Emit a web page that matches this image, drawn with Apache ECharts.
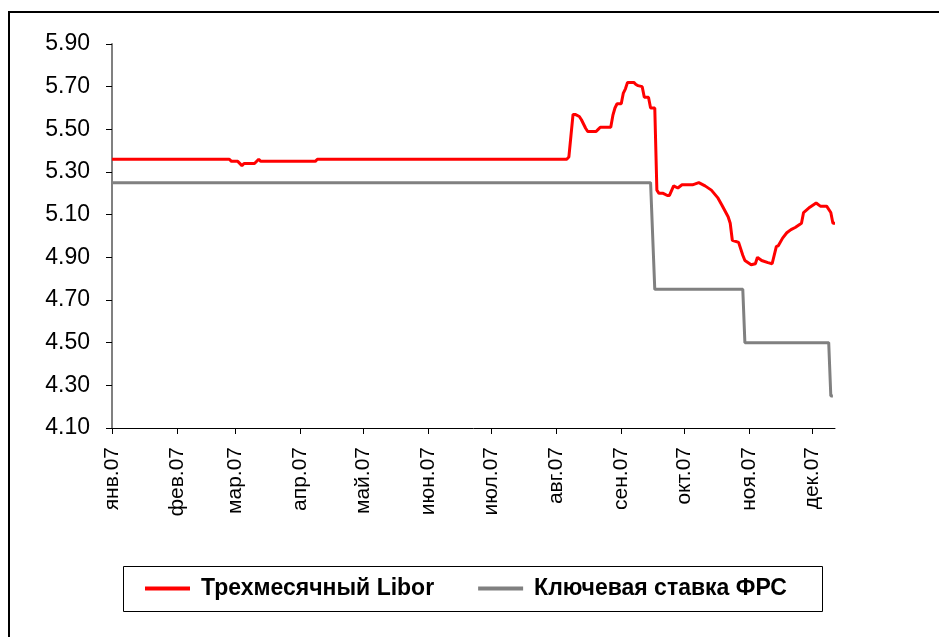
<!DOCTYPE html>
<html><head><meta charset="utf-8">
<script src="https://cdn.jsdelivr.net/npm/echarts@6/dist/echarts.min.js"></script>
<style>html,body{margin:0;padding:0;background:#fff}#c{width:939px;height:637px}</style>
</head><body><div id="c"></div>
<script>
// ---- data ----
const monthLabels = ['янв.07','фев.07','мар.07','апр.07','май.07','июн.07','июл.07','авг.07','сен.07','окт.07','ноя.07','дек.07'];
const firstDay = '2007-01-01';
const lastDay = '2007-12-12';
const yMin = 4.10, yMax = 5.90, yStep = 0.20;

const liborDates = ['2007-01-01','2007-02-26','2007-02-27','2007-03-02','2007-03-04','2007-03-05','2007-03-10','2007-03-12','2007-03-13','2007-04-08','2007-04-09',
 '2007-08-06','2007-08-07','2007-08-08','2007-08-09','2007-08-10','2007-08-12','2007-08-13','2007-08-14','2007-08-15','2007-08-16','2007-08-20','2007-08-21','2007-08-22','2007-08-27','2007-08-28','2007-08-29','2007-08-30',
 '2007-09-01','2007-09-02','2007-09-03','2007-09-04','2007-09-07','2007-09-08','2007-09-09','2007-09-11','2007-09-12','2007-09-14','2007-09-15','2007-09-17','2007-09-18',
 '2007-09-19','2007-09-21','2007-09-23','2007-09-24','2007-09-26','2007-09-28','2007-09-30','2007-10-05','2007-10-08','2007-10-11','2007-10-14','2007-10-17','2007-10-19','2007-10-22','2007-10-23','2007-10-24','2007-10-27','2007-10-29','2007-10-30',
 '2007-11-02','2007-11-04','2007-11-05','2007-11-07','2007-11-10','2007-11-12','2007-11-14','2007-11-15','2007-11-17','2007-11-19','2007-11-21','2007-11-23','2007-11-26','2007-11-27','2007-11-30',
 '2007-12-03','2007-12-05','2007-12-08','2007-12-10','2007-12-11','2007-12-12'];
const liborValues = [5.36,5.36,5.35,5.35,5.33,5.34,5.34,5.36,5.35,5.35,5.36,
 5.36,5.37,5.47,5.57,5.57,5.56,5.545,5.525,5.505,5.49,5.49,5.50,5.51,5.51,5.565,5.60,5.62,
 5.62,5.67,5.69,5.72,5.72,5.71,5.705,5.70,5.65,5.65,5.60,5.60,5.215,
 5.20,5.20,5.19,5.19,5.235,5.225,5.24,5.24,5.25,5.235,5.215,5.18,5.145,5.09,5.06,4.98,4.97,4.91,4.885,
 4.865,4.87,4.90,4.885,4.875,4.87,4.95,4.955,4.99,5.015,5.03,5.04,5.06,5.11,5.135,
 5.155,5.14,5.14,5.11,5.06,5.06];

const fedDates = ['2007-01-01','2007-09-15','2007-09-17','2007-10-29','2007-10-30','2007-12-09','2007-12-10','2007-12-11'];
const fedValues = [5.25,5.25,4.75,4.75,4.50,4.50,4.25,4.25];

const seriesNames = ['Трехмесячный Libor','Ключевая ставка ФРС'];

// ---- build ----
function iso(d){return d.toISOString().slice(0,10);}
const categories = [];
for (let d = new Date(firstDay+'T00:00:00Z'); iso(d) <= lastDay; d.setUTCDate(d.getUTCDate()+1)) categories.push(iso(d));
const isMonthStart = (idx, val) => String(val).slice(8,10) === '01';
const FONT = '"Liberation Sans", Arial, sans-serif';

const chart = echarts.init(document.getElementById('c'), null, {renderer:'canvas'});
chart.setOption({
  animation: false,
  backgroundColor: '#fff',
  grid: {left:112, right:104, top:44, bottom:209, containLabel:false},
  xAxis: {
    type:'category', data: categories, boundaryGap:false,
    axisLine:{lineStyle:{color:'#000', width:1}},
    axisTick:{show:true, interval:isMonthStart, length:6, lineStyle:{color:'#000'}},
    axisLabel:{interval:isMonthStart, rotate:90, margin:19, fontSize:21, color:'#000', fontFamily:FONT,
      formatter:(v)=> monthLabels[parseInt(v.slice(5,7),10)-1]},
    splitLine:{show:false}
  },
  yAxis: {
    type:'value', min:yMin, max:yMax, interval:yStep,
    axisLine:{show:true, lineStyle:{color:'#808080', width:2}},
    axisTick:{show:true, length:6, lineStyle:{color:'#000'}},
    axisLabel:{margin:22, fontSize:23, color:'#000', fontFamily:FONT, formatter:(v)=>v.toFixed(2)},
    splitLine:{show:false}
  },
  legend: {
    data: seriesNames, left:145, top:577, padding:0, itemGap:44, icon:'rect', itemWidth:45, itemHeight:4,
    textStyle:{fontSize:23, fontWeight:'bold', color:'#000', fontFamily:FONT, padding:[0,0,0,6]}
  },
  graphic: [
    {type:'rect', shape:{x:9, y:12, width:1000, height:700}, style:{fill:'none', stroke:'#000', lineWidth:2}, silent:true},
    {type:'rect', shape:{x:123.5, y:566.5, width:699, height:45}, style:{fill:'none', stroke:'#000', lineWidth:1}, silent:true}
  ],
  series: [
    {name:seriesNames[0], type:'line', showSymbol:false, color:'#ff0000', lineStyle:{width:3, color:'#ff0000'},
     data: liborDates.map((d,i)=>[d, liborValues[i]])},
    {name:seriesNames[1], type:'line', showSymbol:false, color:'#808080', lineStyle:{width:3, color:'#808080'},
     data: fedDates.map((d,i)=>[d, fedValues[i]])}
  ]
});
</script></body></html>
